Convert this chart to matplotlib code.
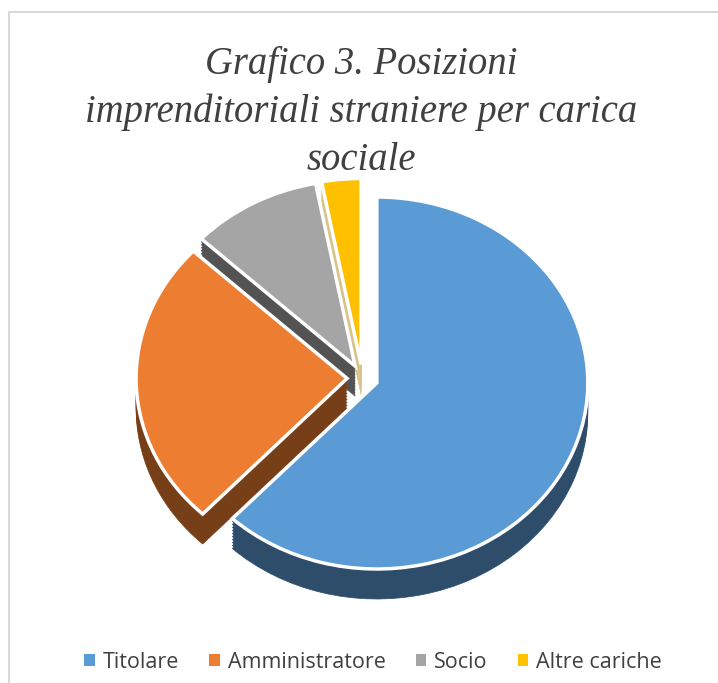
import matplotlib
matplotlib.use('Agg')
import matplotlib.pyplot as plt
from matplotlib.patches import Wedge, Rectangle
import numpy as np

title = 'Grafico 3. Posizioni\nimprenditoriali straniere per carica\nsociale'
labels = ['Titolare', 'Amministratore', 'Socio', 'Altre cariche']
values = [62, 25, 10, 3]
colors = ['#5B9BD5', '#ED7D31', '#A5A5A5', '#FFC000']
side_colors = ['#2E4D6B', '#773F18', '#535353', '#D8C48A']

W, H = 718, 683
cx, cy = 362.5, 378   # pie centre, pixels
rx, ry = 211, 186     # pie radii, pixels
depth = 30            # thickness of the pie, pixels

fig = plt.figure(figsize=(W / 100, H / 100), dpi=100)
ax = fig.add_axes([0, 0, 1, 1])

wedges, _ = ax.pie(values, colors=colors, startangle=90, counterclock=False,
                   explode=[0.073] * 4, radius=1,
                   wedgeprops=dict(edgecolor='white', linewidth=2.5))
ax.set_aspect('auto')
ax.set_xlim(-cx / rx, (W - cx) / rx)
ax.set_ylim((cy - H) / ry, cy / ry)
ax.set_axis_off()

# thickness: shifted copies of each slice, back to front
for i in [3, 2, 1, 0]:
    w = wedges[i]
    dy = 3. / ry
    for k in np.arange(depth / 3., 0, -1):
        s = Wedge((w.center[0], w.center[1] - k * dy), w.r, w.theta1, w.theta2,
                  facecolor=side_colors[i], edgecolor=side_colors[i],
                  linewidth=0.5, zorder=1 + (3 - i))
        ax.add_patch(s)
    w.set_zorder(1.5 + (3 - i))

# white seam on the front corner of the orange slice
w = wedges[1]
a = np.deg2rad(w.theta1)
x0 = w.center[0] + w.r * np.cos(a)
y0 = w.center[1] + w.r * np.sin(a)
ax.plot([x0, x0], [y0, y0 - depth / ry], color='white', lw=2, zorder=3,
        solid_capstyle='butt')

# chart frame
for r in [Rectangle((8 / W, 0), 2 / W, 1 - 12 / H),
          Rectangle((8 / W, 1 - 13 / H), 1, 2 / H)]:
    r.set_transform(fig.transFigure)
    r.set_facecolor('#D9D9D9')
    r.set_edgecolor('none')
    fig.add_artist(r)

fig.text(361 / W, 1 - 46 / H, title, ha='center', va='top', linespacing=1.38,
         family='Liberation Serif', style='italic', fontsize=27.8,
         color='#404040', zorder=10)

leg = fig.legend(wedges, labels, ncol=4, frameon=False, loc='center',
                 bbox_to_anchor=(373 / W, 1 - 662 / H),
                 prop=dict(family='Open Sans', size=15.5),
                 handlelength=0.5, handleheight=0.5, handletextpad=0.35,
                 columnspacing=1.4, labelcolor='#404040')
for h in leg.get_patches():
    h.set_edgecolor('none')

fig.savefig('out.png', dpi=100)
